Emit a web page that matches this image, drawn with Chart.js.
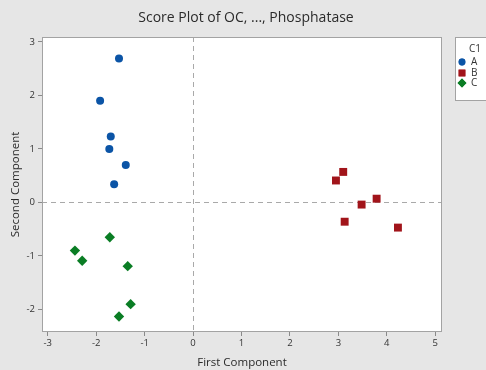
<!DOCTYPE html>
<html>
<head>
<meta charset="utf-8">
<script src="https://cdn.jsdelivr.net/npm/chart.js@4"></script>
<style>
html,body{margin:0;padding:0;background:#e6e6e6;}
canvas{display:block;}
</style>
</head>
<body>
<canvas id="c" width="486" height="370"></canvas>
<script>
// ---- data ----
const groupNames = ["A", "B", "C"];
const aX = [-1.53, -1.92, -1.70, -1.73, -1.39, -1.63];
const aY = [2.69, 1.90, 1.23, 1.00, 0.70, 0.34];
const bX = [2.95, 3.10, 3.48, 3.79, 3.13, 4.23];
const bY = [0.41, 0.57, -0.04, 0.07, -0.36, -0.47];
const cX = [-1.72, -2.44, -2.29, -1.35, -1.29, -1.53];
const cY = [-0.65, -0.90, -1.09, -1.19, -1.90, -2.13];
const xTicks = [-3, -2, -1, 0, 1, 2, 3, 4, 5];
const yTicks = [-2, -1, 0, 1, 2, 3];
const legendTitle = "C1";
const chartTitle = "Score Plot of OC, ..., Phosphatase";

const colors = ['#0b54a6', '#a1141a', '#0a7d24'];
const styles = ['circle', 'rect', 'rectRot'];
const radii = [4, 5.6, 5.2];

function pts(xs, ys) { return xs.map((x, i) => ({x: x, y: ys[i]})); }
const series = [pts(aX, aY), pts(bX, bY), pts(cX, cY)];

const FONT = "'Open Sans', 'Segoe UI', sans-serif";

const bgPlugin = {
  id: 'bg',
  beforeDraw(chart) {
    const {ctx, chartArea: a} = chart;
    ctx.save();
    ctx.fillStyle = '#e6e6e6';
    ctx.fillRect(0, 0, chart.width, chart.height);
    ctx.fillStyle = '#ffffff';
    ctx.fillRect(a.left, a.top, a.right - a.left, a.bottom - a.top);
    ctx.restore();
  },
  beforeDatasetsDraw(chart) {
    const {ctx, chartArea: a, scales} = chart;
    const x0 = scales.x.getPixelForValue(0);
    const y0 = scales.y.getPixelForValue(0);
    ctx.save();
    ctx.strokeStyle = '#a9a9a9';
    ctx.lineWidth = 1;
    ctx.setLineDash([5, 4]);
    ctx.beginPath();
    ctx.moveTo(Math.round(x0) + 0.5, a.top);
    ctx.lineTo(Math.round(x0) + 0.5, a.bottom);
    ctx.moveTo(a.left, Math.round(y0) + 0.5);
    ctx.lineTo(a.right, Math.round(y0) + 0.5);
    ctx.stroke();
    ctx.restore();
  },
  afterDraw(chart) {
    const {ctx, chartArea: a} = chart;
    ctx.save();
    // title
    ctx.fillStyle = '#2b2b2b';
    ctx.font = "14px " + FONT;
    ctx.textAlign = 'center';
    ctx.textBaseline = 'middle';
    ctx.fillText(chartTitle, 246, 18);
    // plot border
    ctx.strokeStyle = '#a3a3a3';
    ctx.lineWidth = 1;
    ctx.strokeRect(Math.round(a.left) + 0.5, Math.round(a.top) + 0.5, Math.round(a.right - a.left) - 1, Math.round(a.bottom - a.top) - 1);
    // legend box
    const lx = 455, ly = 37;
    ctx.fillStyle = '#ffffff';
    ctx.fillRect(lx, ly, 40, 64);
    ctx.strokeStyle = '#a3a3a3';
    ctx.strokeRect(lx + 0.5, ly + 0.5, 40, 63);
    ctx.fillStyle = '#333333';
    ctx.font = "10px " + FONT;
    ctx.textBaseline = 'middle';
    ctx.textAlign = 'left';
    ctx.fillText(legendTitle, 469, 49);
    const rows = [62, 73, 83];
    groupNames.forEach((n, i) => {
      ctx.fillStyle = colors[i];
      ctx.strokeStyle = colors[i];
      Chart.helpers.drawPoint(ctx, {pointStyle: styles[i], radius: radii[i] * 0.85, rotation: 0, borderWidth: 0}, 462, rows[i]);
      ctx.fill();
      ctx.fillStyle = '#333333';
      ctx.fillText(n, 471, rows[i]);
    });
    ctx.restore();
  }
};

new Chart(document.getElementById('c'), {
  type: 'scatter',
  data: {
    datasets: series.map((d, i) => ({
      label: groupNames[i],
      data: d,
      pointStyle: styles[i],
      pointRadius: radii[i],
      pointHoverRadius: radii[i],
      backgroundColor: colors[i],
      borderColor: colors[i],
      borderWidth: 0
    }))
  },
  options: {
    responsive: false,
    animation: false,
    events: [],
    layout: {padding: {left: 0, right: 44, top: 37, bottom: 0}},
    plugins: {
      legend: {display: false},
      tooltip: {enabled: false},
      title: {display: false}
    },
    scales: {
      x: {
        type: 'linear',
        min: -3.12, max: 5.14,
        afterBuildTicks(s) { s.ticks = xTicks.map(v => ({value: v})); },
        afterFit(s) { s.height = 38; },
        grid: {display: true, drawOnChartArea: false, drawTicks: true, tickLength: 4, color: '#8a8a8a'},
        border: {display: false},
        ticks: {color: '#333', font: {family: FONT, size: 9.5}, padding: 2, maxRotation: 0},
        title: {display: true, text: 'First Component', color: '#2b2b2b', font: {family: FONT, size: 11.5}, padding: {top: 0, bottom: 0}}
      },
      y: {
        type: 'linear',
        min: -2.42, max: 3.09,
        afterBuildTicks(s) { s.ticks = yTicks.map(v => ({value: v})); },
        afterFit(s) { s.width = 42; },
        grid: {display: true, drawOnChartArea: false, drawTicks: true, tickLength: 4, color: '#8a8a8a'},
        border: {display: false},
        ticks: {color: '#333', font: {family: FONT, size: 9.5}, padding: 3},
        title: {display: true, text: 'Second Component', color: '#2b2b2b', font: {family: FONT, size: 11.5}, padding: {top: 9, bottom: 0}}
      }
    }
  },
  plugins: [bgPlugin]
});
</script>
</body>
</html>
